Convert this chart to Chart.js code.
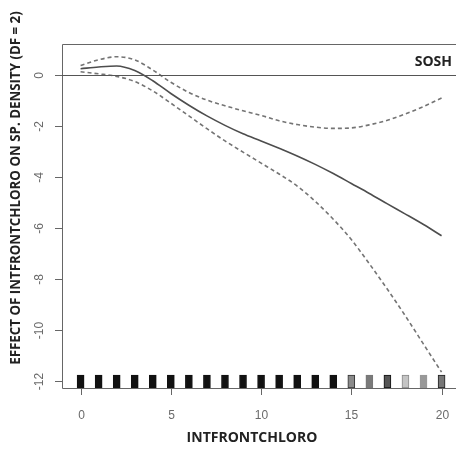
<!DOCTYPE html>
<html>
<head>
<meta charset="utf-8">
<script src="https://cdn.jsdelivr.net/npm/chart.js@4"></script>
<style>
  html, body { margin: 0; padding: 0; background: #fff; }
  #wrap { width: 456px; height: 451px; }
</style>
</head>
<body>
<div id="wrap"><canvas id="myChart" width="456" height="451"></canvas></div>
<script>
// smooth term and its confidence band, sampled at whole values of INTFRONTCHLORO
const xs = [0, 1, 2, 3, 4, 5, 6, 7, 8, 9, 10, 11, 12, 13, 14, 15, 16, 17, 18, 19, 20];
const fit = [0.25, 0.32, 0.36, 0.18, -0.22, -0.72, -1.18, -1.6, -1.97, -2.3, -2.58,
             -2.87, -3.17, -3.5, -3.86, -4.25, -4.64, -5.05, -5.45, -5.86, -6.3];
const upper = [0.38, 0.6, 0.72, 0.6, 0.2, -0.28, -0.68, -0.98, -1.2, -1.4, -1.58,
               -1.79, -1.94, -2.04, -2.09, -2.07, -1.95, -1.77, -1.52, -1.23, -0.9];
const lower = [0.13, 0.05, -0.05, -0.25, -0.62, -1.1, -1.6, -2.1, -2.58, -3.02, -3.45,
               -3.88, -4.35, -4.95, -5.65, -6.45, -7.4, -8.4, -9.45, -10.55, -11.65];

// rug of observed values along the bottom
const rugX = [0, 1, 2, 3, 4, 5, 6, 7, 8, 9, 10, 11, 12, 13, 14, 15, 16, 17, 18, 19, 20];
const rugFill = ['#111', '#111', '#111', '#111', '#111', '#111', '#111', '#111', '#111', '#111', '#111',
                 '#111', '#111', '#111', '#111', '#8a8a8a', '#7a7a7a', '#555', '#c4c4c4', '#999', '#777'];
const rugEdge = ['#111', '#111', '#111', '#111', '#111', '#111', '#111', '#111', '#111', '#111', '#111',
                 '#111', '#111', '#111', '#111', '#333', '#777', '#111', '#888', '#999', '#222'];

const xTicks = [0, 5, 10, 15, 20];
const yTicks = [0, -2, -4, -6, -8, -10, -12];

const xMin = -1.03, xMax = 20.8;
const yMin = -12.27, yMax = 1.22;
const rugTop = -11.76;

const pts = arr => xs.map((x, i) => ({x: x, y: arr[i]}));

// box, zero line, ticks and rotated labels in base-graphics style
const frame = {
    id: 'frame',
    afterDatasetsDraw(chart) {
        const {ctx, chartArea: a, scales: {x, y}} = chart;
        ctx.save();
        ctx.strokeStyle = '#666';
        ctx.lineWidth = 1;
        ctx.beginPath();
        ctx.moveTo(a.right + 5, a.top + 0.5);
        ctx.lineTo(a.left + 0.5, a.top + 0.5);
        ctx.lineTo(a.left + 0.5, a.bottom + 0.5);
        ctx.lineTo(a.right + 5, a.bottom + 0.5);
        ctx.stroke();

        // h = 0 reference line
        const y0 = Math.round(y.getPixelForValue(0)) + 0.5;
        ctx.strokeStyle = '#555';
        ctx.beginPath();
        ctx.moveTo(a.left, y0);
        ctx.lineTo(a.right, y0);
        ctx.stroke();

        ctx.strokeStyle = '#666';
        ctx.fillStyle = '#6a6a6a';
        ctx.font = '12px "Liberation Sans", Arial, sans-serif';
        ctx.textAlign = 'center';
        ctx.textBaseline = 'middle';
        xTicks.forEach(v => {
            const px = Math.round(x.getPixelForValue(v)) + 0.5;
            ctx.beginPath();
            ctx.moveTo(px, a.bottom);
            ctx.lineTo(px, a.bottom + 7);
            ctx.stroke();
            ctx.fillText(String(v), px, a.bottom + 28);
        });
        yTicks.forEach(v => {
            const py = Math.round(y.getPixelForValue(v)) + 0.5;
            ctx.beginPath();
            ctx.moveTo(a.left - 7, py);
            ctx.lineTo(a.left, py);
            ctx.stroke();
            ctx.save();
            ctx.translate(a.left - 22, py);
            ctx.rotate(-Math.PI / 2);
            ctx.fillText(String(v), 0, 0);
            ctx.restore();
        });

        ctx.fillStyle = '#222';
        ctx.font = 'bold 14px "Open Sans", sans-serif';
        ctx.fillText('INTFRONTCHLORO', 252, a.bottom + 50);
        ctx.save();
        ctx.translate(16, 188);
        ctx.rotate(-Math.PI / 2);
        ctx.font = 'bold 13.3px "Open Sans", sans-serif';
        ctx.fillText('EFFECT OF INTFRONTCHLORO ON SP. DENSITY (DF = 2)', 0, 0);
        ctx.restore();

        ctx.textAlign = 'right';
        ctx.font = 'bold 14px "Open Sans", sans-serif';
        ctx.fillText('SOSH', a.right - 4, a.top + 18);
        ctx.restore();
    }
};

const ds = (label, arr, dash, color, width) => ({
    type: 'line',
    label: label,
    data: pts(arr),
    borderColor: color,
    borderWidth: width,
    borderDash: dash,
    pointRadius: 0,
    fill: false,
    cubicInterpolationMode: 'monotone'
});

const config = {
    data: {
        datasets: [
            ds('fit', fit, [], '#4d4d4d', 1.6),
            ds('upper', upper, [4, 3], '#747474', 1.6),
            ds('lower', lower, [4, 3], '#747474', 1.6),
            {
                type: 'bar',
                label: 'rug',
                data: rugX.map(v => ({x: v, y: [yMin, rugTop]})),
                backgroundColor: rugFill,
                borderColor: rugEdge,
                borderWidth: 1,
                borderSkipped: false,
                barThickness: 7
            }
        ]
    },
    options: {
        responsive: false,
        animation: false,
        layout: {padding: {left: 62, top: 44, right: 0, bottom: 63}},
        plugins: {legend: {display: false}, tooltip: {enabled: false}},
        scales: {
            x: {type: 'linear', min: xMin, max: xMax, offset: false, display: false},
            y: {type: 'linear', min: yMin, max: yMax, display: false}
        }
    },
    plugins: [frame]
};

new Chart(document.getElementById('myChart'), config);
</script>
</body>
</html>
